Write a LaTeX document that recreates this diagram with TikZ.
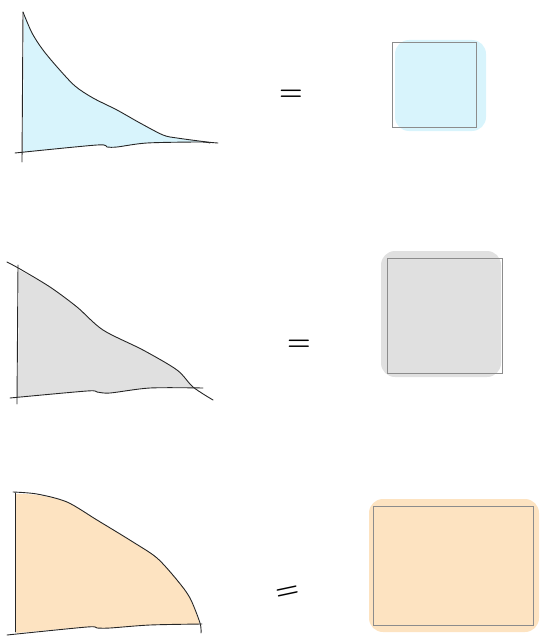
\documentclass[tikz,border=0pt]{standalone}
\usepackage{tikz}

\definecolor{skyfill}{RGB}{216,244,252}
\definecolor{greyfill}{RGB}{224,224,224}
\definecolor{peachfill}{RGB}{253,227,193}

\begin{document}
\begin{tikzpicture}[
x=1pt, y=-1pt,
pen/.style={draw=black!85, line width=0.9pt, line cap=round, line join=round},
frame/.style={draw=black!45, line width=0.8pt},
blob/.style={rounded corners=14pt},
equal/.style={inner sep=0pt, font=\fontsize{27}{27}\bfseries}
]
\useasboundingbox (0,0) rectangle (539,642);

% blue triangle
\fill[skyfill] plot[smooth] coordinates {(24,14) (32,33) (43,50) (58,68) (75,86) (93,98) (117,110) (140,123) (163,135) (177,138) (207,142)}
  -- plot[smooth] coordinates {(200,142) (147,143) (117,147) (107,147) (97,145) (23,152)} -- cycle;
\draw[pen] plot[smooth] coordinates {(23,12) (32,33) (43,50) (58,68) (75,86) (93,98) (117,110) (140,123) (163,135) (177,138) (207,142) (218,143)};
\draw[pen] (23,12) -- (22,162);
\draw[pen] plot[smooth] coordinates {(15,153) (97,145) (107,147) (117,147) (147,143) (200,142) (210,143)};

% grey triangle
\fill[greyfill] plot[smooth] coordinates {(19,270) (50,287) (77,307) (103,330) (143,350) (177,370) (193,387)}
  -- plot[smooth] coordinates {(193,388) (150,388) (110,393) (97,392) (87,391) (18,397)} -- cycle;
\draw[pen] plot[smooth] coordinates {(7,262) (20,269) (50,287) (77,307) (103,330) (143,350) (177,370) (193,387) (213,400)};
\draw[pen] (18,265) -- (17,404);
\draw[pen] plot[smooth] coordinates {(10,398) (87,391) (97,392) (110,393) (150,388) (203,388)};

% orange triangle
\fill[peachfill] plot[smooth] coordinates {(16,494) (37,495) (67,502) (97,520) (133,542) (157,558) (177,580) (190,598) (199,622)}
  -- plot[smooth] coordinates {(199,624) (150,625) (110,628) (97,628) (87,627) (16,633)} -- cycle;
\draw[pen] plot[smooth] coordinates {(13,492) (37,494) (67,502) (97,520) (133,542) (157,558) (177,580) (190,598) (200,623) (201,633)};
\draw[pen] (15,493) -- (15,632);
\draw[pen] plot[smooth] coordinates {(7,635) (87,627) (97,628) (110,628) (150,625) (202,624)};

% equals signs
\node[equal] (eqa) at (291,95) {=};
\node[equal] (eqb) at (299,345) {=};
\node[equal, rotate=12] (eqc) at (288,593) {=};

% squares
\fill[skyfill, blob] (395,40) rectangle (486,131);
\draw[frame] (392,42) rectangle (476,127);

\fill[greyfill, blob] (381,251) rectangle (501,377);
\draw[frame] (387,258) rectangle (502,373);

\fill[peachfill, blob] (369,499) rectangle (539,632);
\draw[frame] (373,506) rectangle (533,625);

\end{tikzpicture}
\end{document}
